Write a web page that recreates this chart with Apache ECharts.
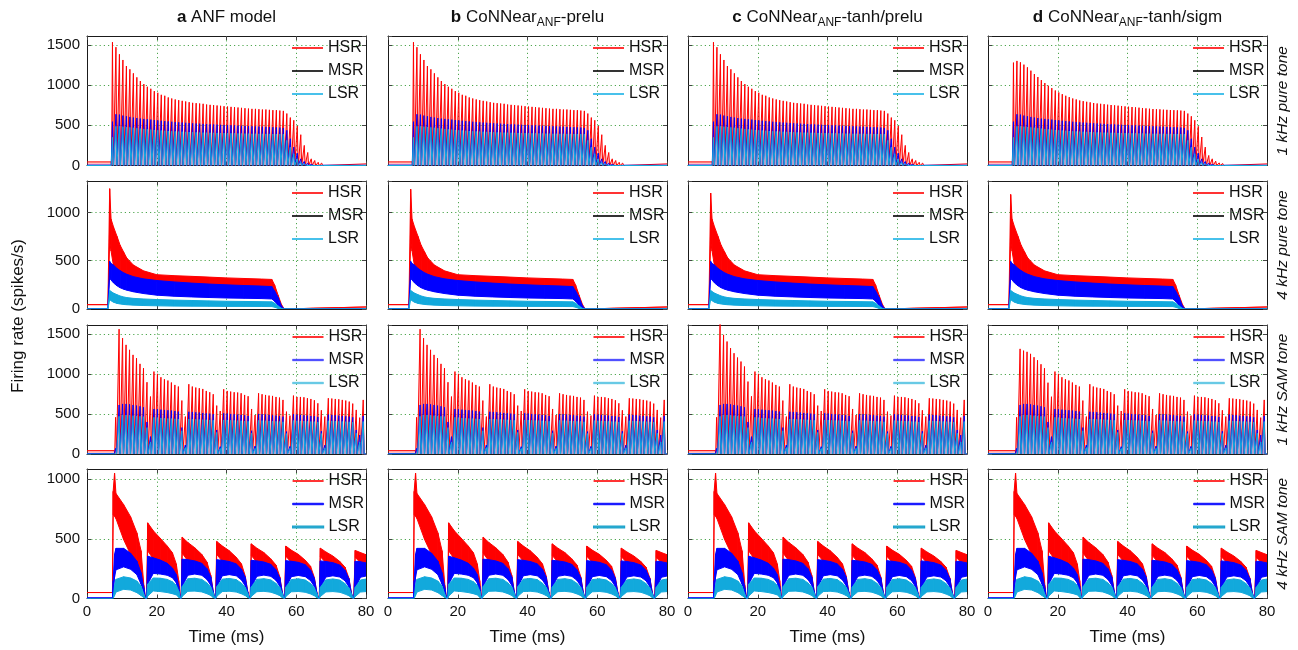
<!DOCTYPE html>
<html><head><meta charset="utf-8">
<script src="https://cdn.jsdelivr.net/npm/echarts@6.0.0/dist/echarts.min.js"></script>
<style>html,body{margin:0;padding:0;background:#fff}#c{width:1298px;height:650px}</style>
</head><body><div id="c"></div><script>
// ---------------- categories / labels ----------------
const panelTitles = ['{b|a} ANF model', '{b|b} CoNNear{s|ANF}-prelu', '{b|c} CoNNear{s|ANF}-tanh/prelu', '{b|d} CoNNear{s|ANF}-tanh/sigm'];
const rowLabels = ['1 kHz pure tone', '4 kHz pure tone', '1 kHz SAM tone', '4 kHz SAM tone'];
const seriesNames = ['HSR', 'MSR', 'LSR'];
const xName = 'Time (ms)';
const yName = 'Firing rate (spikes/s)';
const xTicks = [0, 20, 40, 60, 80];
const yTicks = [[0, 500, 1000, 1500], [0, 500, 1000], [0, 500, 1000, 1500], [0, 500, 1000]];
const yMax = [1610, 1325, 1610, 1085];

// ---------------- row 1: 1 kHz pure tone (peak per 1-ms cycle) ----------------
const onset1k = 7.3, cycle1k = 1.0;
const base1k = [45, 5, 0], post1k = [20, 3, 0];
const hsr1kA = [1533, 1471, 1383, 1312, 1237, 1196, 1146, 1096, 1050, 1012,
  979, 954, 925, 904, 879, 867, 846, 833, 821, 812,
  804, 796, 787, 779, 775, 771, 767, 758, 754, 750,
  746, 742, 737, 733, 729, 725, 721, 717, 712, 708,
  704, 704, 700, 696, 696, 692, 688, 688, 683, 679,
  646, 596, 562, 492, 383, 250, 162, 83, 62, 40, 30];
const hsr1kD = [1279, 1300, 1283, 1254, 1221, 1179, 1137, 1100, 1062, 1025,
  992, 962, 933, 908, 887, 867, 850, 833, 821, 808,
  800, 792, 785, 777, 771, 767, 762, 756, 752, 748,
  744, 740, 735, 731, 727, 723, 719, 715, 710, 706,
  702, 700, 698, 694, 692, 690, 688, 686, 683, 679,
  646, 612, 562, 487, 354, 229, 125, 83, 54, 33, 25];
const msr1k = [545, 637, 633, 621, 612, 604, 596, 590, 583, 579,
  575, 571, 565, 560, 556, 552, 548, 544, 540, 537,
  534, 531, 528, 525, 522, 520, 517, 515, 512, 510,
  508, 506, 504, 502, 500, 498, 496, 494, 492, 490,
  488, 486, 484, 482, 480, 478, 476, 474, 472, 467,
  437, 333, 229, 154, 83, 50, 29, 12, 8, 5, 4];
const lsr1k = [350, 487, 487, 483, 479, 474, 469, 464, 459, 454,
  450, 446, 442, 438, 435, 432, 429, 426, 424, 422,
  420, 418, 416, 414, 412, 410, 409, 408, 407, 406,
  405, 404, 403, 402, 401, 400, 399, 398, 397, 396,
  395, 395, 394, 394, 393, 393, 392, 392, 392, 390,
  312, 229, 146, 83, 42, 20, 8, 3, 0, 0, 0];

// ---------------- row 3: 1 kHz SAM tone (peak per 1-ms cycle) ----------------
const onsetSam1k = 8.2, cycleSam1k = 1.0;
const baseSam1k = [42, 5, 0], postSam1k = [0, 0, 0];
const hsrSam1k = [458,
  1558, 1446, 1362, 1300, 1237, 1196, 1125, 1071, 896, 717,
  1029, 1000, 958, 933, 917, 892, 862, 842, 667, 467,
  871, 842, 829, 821, 812, 787, 771, 746, 604, 537,
  808, 787, 779, 771, 767, 758, 737, 721, 562, 487,
  758, 746, 737, 729, 725, 712, 704, 675, 529, 479,
  729, 712, 712, 708, 696, 687, 671, 633, 546, 467,
  696, 692, 687, 683, 675, 667, 654, 629, 550, 454,
  675];
const hsrSam1kOnsetC = [1650, 1487, 1404, 1321, 1258, 1204, 1154, 1092, 904, 720];
const hsrSam1kOnsetD = [1312, 1290, 1275, 1250, 1208, 1170, 1120, 1070, 890, 715];
const msrSam1k = [70,
  612, 625, 625, 620, 612, 604, 596, 583, 400, 217,
  562, 558, 554, 550, 546, 542, 537, 529, 330, 112,
  527, 525, 521, 517, 512, 508, 504, 496, 300, 92,
  508, 504, 500, 496, 492, 488, 483, 475, 290, 100,
  500, 496, 492, 488, 483, 479, 475, 467, 280, 95,
  496, 492, 488, 483, 479, 475, 471, 463, 285, 110,
  492, 488, 483, 479, 475, 471, 467, 458, 300, 237,
  475];
const lsrSam1k = [20,
  470, 487, 487, 483, 479, 475, 471, 466, 330, 150,
  458, 454, 450, 446, 444, 442, 440, 437, 290, 80,
  437, 435, 433, 431, 429, 427, 425, 421, 270, 70,
  425, 423, 421, 419, 417, 415, 412, 408, 260, 70,
  419, 417, 415, 413, 411, 408, 406, 402, 255, 70,
  417, 415, 413, 411, 408, 406, 404, 400, 255, 75,
  415, 413, 411, 408, 406, 404, 402, 398, 260, 150,
  405];

// ---------------- row 2: 4 kHz pure tone (envelopes: top / bottom) ----------------
const times4k = [0, 6.0, 6.5, 6.9, 7.6, 8.6, 9.5, 10.5, 11.4, 13.3, 16.2, 20, 25, 30, 35, 40, 45, 50, 53, 53.8, 54.8, 55.7, 56.4, 57.1, 65, 72, 80];
const hsrTop4k = [45, 45, 1245, 930, 850, 752, 660, 590, 528, 455, 395, 355, 345, 338, 330, 322, 316, 310, 306, 248, 142, 52, 7, 0, 8, 14, 21];
const hsrBot4k = [45, 45, 700, 600, 445, 410, 387, 365, 350, 325, 302, 285, 270, 258, 248, 240, 233, 227, 222, 175, 110, 30, 5, 0, 8, 14, 21];
const msrTop4k = [5, 5, 493, 470, 455, 420, 397, 375, 360, 335, 312, 295, 280, 268, 258, 250, 243, 237, 232, 185, 120, 35, 5, 0, 0, 0, 0];
const msrBot4k = [5, 5, 330, 300, 270, 240, 220, 205, 195, 178, 160, 143, 132, 125, 119, 114, 111, 108, 104, 80, 40, 7, 0, 0, 0, 0, 0];
const lsrTop4k = [0, 0, 192, 180, 165, 148, 135, 125, 118, 110, 104, 98, 92, 88, 84, 80, 78, 76, 74, 60, 32, 8, 0, 0, 0, 0, 0];
const lsrBot4k = [0, 0, 100, 85, 70, 58, 52, 47, 44, 40, 36, 33, 30, 29, 28, 27, 27, 26, 25, 18, 6, 0, 0, 0, 0, 0, 0];
const hsr4kOnsetPeak = [1245, 1240, 1200, 1185];

// ---------------- row 4: 4 kHz SAM tone (envelopes: top / bottom) ----------------
const timesSam4k = [0, 7.3,
  7.5, 7.9, 8.3, 10.5, 12.5, 14.3, 15.5, 16.3, 16.8,
  17.1, 17.4, 19.0, 21.0, 23.0, 24.5, 25.6, 26.3, 26.8,
  27.0, 27.3, 28.9, 30.9, 32.9, 34.4, 35.5, 36.2, 36.7,
  36.9, 37.2, 38.8, 40.8, 42.8, 44.3, 45.4, 46.1, 46.6,
  46.8, 47.1, 48.7, 50.7, 52.7, 54.2, 55.3, 56.0, 56.5,
  56.7, 57.0, 58.6, 60.6, 62.6, 64.1, 65.2, 65.9, 66.4,
  66.6, 66.9, 68.5, 70.5, 72.5, 74.0, 75.1, 75.8, 76.3,
  76.5, 76.9, 78.4, 80];
const hsrTopSam4k = [50, 50,
  898, 1051, 880, 787, 685, 550, 400, 110, 0,
  0, 634, 568, 505, 440, 383, 290, 150, 0,
  0, 514, 470, 425, 370, 305, 194, 60, 0,
  0, 478, 440, 400, 345, 290, 185, 55, 0,
  0, 458, 422, 385, 332, 280, 180, 52, 0,
  0, 439, 405, 370, 320, 270, 175, 50, 0,
  0, 422, 390, 356, 310, 262, 170, 48, 0,
  0, 403, 385, 367];
const hsrBotSam4k = [50, 50,
  700, 690, 670, 494, 369, 230, 140, 60, 0,
  0, 400, 331, 312, 280, 230, 180, 80, 0,
  0, 380, 315, 305, 285, 235, 165, 40, 0,
  0, 370, 310, 300, 280, 230, 160, 38, 0,
  0, 360, 305, 296, 276, 226, 157, 36, 0,
  0, 355, 302, 293, 273, 223, 155, 35, 0,
  0, 350, 300, 290, 270, 220, 152, 34, 0,
  0, 345, 298, 288];
const msrTopSam4k = [5, 5,
  150, 370, 420, 420, 380, 313, 216, 90, 0,
  0, 355, 341, 322, 295, 255, 200, 104, 0,
  0, 330, 325, 315, 295, 250, 180, 60, 0,
  0, 325, 320, 310, 290, 245, 175, 55, 0,
  0, 320, 315, 306, 286, 240, 170, 52, 0,
  0, 317, 312, 303, 283, 238, 168, 50, 0,
  0, 315, 310, 300, 280, 235, 165, 48, 0,
  0, 312, 308, 298];
const msrBotSam4k = [5, 5,
  5, 180, 240, 265, 245, 200, 120, 50, 0,
  0, 120, 210, 205, 195, 174, 132, 50, 0,
  0, 100, 195, 205, 195, 160, 110, 35, 0,
  0, 95, 190, 200, 190, 155, 105, 33, 0,
  0, 90, 186, 196, 186, 152, 102, 32, 0,
  0, 88, 183, 193, 183, 150, 100, 31, 0,
  0, 85, 180, 190, 180, 148, 98, 30, 0,
  0, 83, 178, 188];
const lsrTopSam4k = [0, 0,
  0, 110, 160, 182, 172, 146, 104, 35, 0,
  0, 120, 172, 170, 160, 140, 110, 63, 0,
  0, 100, 165, 170, 160, 130, 95, 45, 0,
  0, 98, 162, 168, 158, 128, 93, 43, 0,
  0, 96, 160, 166, 156, 126, 92, 42, 0,
  0, 95, 158, 165, 155, 125, 90, 41, 0,
  0, 94, 156, 164, 154, 124, 89, 40, 0,
  0, 93, 155, 163];
const lsrBotSam4k = [0, 0,
  0, 25, 54, 77, 71, 49, 25, 8, 0,
  0, 20, 63, 58, 50, 40, 30, 10, 0,
  0, 18, 60, 62, 55, 40, 25, 8, 0,
  0, 18, 58, 61, 54, 39, 24, 8, 0,
  0, 17, 57, 60, 53, 38, 24, 7, 0,
  0, 17, 56, 59, 52, 38, 23, 7, 0,
  0, 16, 55, 58, 52, 37, 23, 7, 0,
  0, 16, 54, 58];

// ---------------- layout & style ----------------
const FONT = '"Liberation Sans", Arial, Helvetica, sans-serif';
const colLeft = [87, 388, 688, 988], colW = 279;
const rowTop = [36, 181, 325, 469], rowH = [129.5, 128, 129, 129.5];
const colors = ['#ff0000', '#0000ff', '#12a9dc'];
const areaColors = ['rgba(255,0,0,0.35)', 'rgba(0,0,255,0.25)', 'rgba(18,169,220,0.25)'];
const legendItems = [
  [{name:'HSR', itemStyle:{color:'#ff0000'}}, {name:'MSR', itemStyle:{color:'#000000'}}, {name:'LSR', itemStyle:{color:'#1ab2e6'}}],
  [{name:'HSR', itemStyle:{color:'#ff0000'}}, {name:'MSR', itemStyle:{color:'#000000'}}, {name:'LSR', itemStyle:{color:'#1ab2e6'}}],
  [{name:'HSR', itemStyle:{color:'#ff0000'}}, {name:'MSR', itemStyle:{color:'#2020ff', borderColor:'rgba(90,90,255,0.55)', borderWidth:1}}, {name:'LSR', itemStyle:{color:'#30b8dd', borderColor:'rgba(120,205,230,0.7)', borderWidth:1}}],
  [{name:'HSR', itemStyle:{color:'#ff0000'}}, {name:'MSR', itemStyle:{color:'#0000ff', borderColor:'#0000ff', borderWidth:0.7}}, {name:'LSR', itemStyle:{color:'#1aa3cb', borderColor:'#1aa3cb', borderWidth:1.2}}]
];

function withOnset(base, onset, from) {
  const a = base.slice();
  onset.forEach((v, i) => { a[from + i] = v; });
  return a;
}
function spikeLine(si, g, t0, period, baseline, peaks, post) {
  const hw = 0.26;
  const d = [[0, baseline], [t0 - hw - 0.1, baseline]];
  peaks.forEach((p, k) => { const t = t0 + k * period; d.push([t - hw, 0], [t, p], [t + hw, 0]); });
  const tEnd = t0 + (peaks.length - 0.5) * period;
  if (tEnd < 80) d.push([tEnd, post], [80, post]);
  return {type:'line', name: seriesNames[si], xAxisIndex: 2*g, yAxisIndex: 2*g, data: d,
    showSymbol:false, symbol:'none', clip:true, silent:true, animation:false,
    lineStyle:{color: colors[si], width:1}, itemStyle:{color: colors[si]},
    areaStyle:{color: areaColors[si]}};
}
function bandSeries(si, g, times, top, bot) {
  const data = [];
  for (let i = 0; i < times.length - 1; i++) data.push([times[i], top[i], bot[i], times[i+1], top[i+1], bot[i+1]]);
  const color = colors[si];
  return {type:'custom', name: seriesNames[si], xAxisIndex: 2*g, yAxisIndex: 2*g, data,
    encode:{x:[0,3], y:[1,2,4,5]}, itemStyle:{color}, clip:true, silent:true, animation:false,
    renderItem: (params, api) => {
      const pts = [api.coord([api.value(0), api.value(2)]), api.coord([api.value(0), api.value(1)]),
                   api.coord([api.value(3), api.value(4)]), api.coord([api.value(3), api.value(5)])];
      return {type:'polygon', shape:{points: pts}, style:{fill: color, stroke: color, lineWidth: 1}};
    }};
}

const grid = [], xAxis = [], yAxis = [], series = [], legend = [], graphic = [];
for (let r = 0; r < 4; r++) for (let c = 0; c < 4; c++) {
  const g = r * 4 + c;
  grid.push({left: colLeft[c], top: rowTop[r], width: colW, height: rowH[r]});
  const frame = {show:true, onZero:false, lineStyle:{color:'#1a1a1a', width:1}};
  const tick = {show:true, inside:true, length:4, lineStyle:{color:'#444', width:1}};
  const grd = {show:true, showMinLine:false, showMaxLine:false, lineStyle:{color:'#4ea64e', width:1, type:[1.2, 3]}};
  const xmin = xTicks[0], xmax = xTicks[xTicks.length-1], xint = xTicks[1] - xTicks[0];
  xAxis.push({gridIndex:g, type:'value', position:'bottom', min:xmin, max:xmax, interval:xint,
    axisLine:frame, axisTick:tick, splitLine:grd,
    axisLabel:{show: r === 3, margin:6, fontSize:15, fontFamily:FONT, color:'#111'},
    name: r === 3 ? xName : '', nameLocation:'middle', nameGap:30,
    nameTextStyle:{fontSize:17, fontFamily:FONT, color:'#111'}});
  xAxis.push({gridIndex:g, type:'value', position:'top', min:xmin, max:xmax, interval:xint,
    axisLine:frame, axisTick:tick, axisLabel:{show:false}, splitLine:{show:false}});
  const yt = yTicks[r];
  yAxis.push({gridIndex:g, type:'value', position:'left', min:yt[0], max:yMax[r], interval:yt[1]-yt[0],
    axisLine:frame, axisTick:tick, splitLine:grd,
    axisLabel:{show: c === 0, margin:7, fontSize:15, fontFamily:FONT, color:'#111', showMaxLabel:false,
      formatter: v => (yt.indexOf(v) >= 0 ? String(v) : '')}});
  yAxis.push({gridIndex:g, type:'value', position:'right', min:yt[0], max:yMax[r], interval:yt[1]-yt[0],
    axisLine:frame, axisTick:tick, axisLabel:{show:false}, splitLine:{show:false}});

  if (r === 0) {
    const h = c === 3 ? hsr1kD : hsr1kA;
    series.push(spikeLine(0, g, onset1k, cycle1k, base1k[0], h, post1k[0]));
    series.push(spikeLine(1, g, onset1k, cycle1k, base1k[1], msr1k, post1k[1]));
    series.push(spikeLine(2, g, onset1k, cycle1k, base1k[2], lsr1k, post1k[2]));
  } else if (r === 2) {
    let h = hsrSam1k;
    if (c === 2) h = withOnset(hsrSam1k, hsrSam1kOnsetC, 1);
    if (c === 3) h = withOnset(hsrSam1k, hsrSam1kOnsetD, 1);
    series.push(spikeLine(0, g, onsetSam1k, cycleSam1k, baseSam1k[0], h, postSam1k[0]));
    series.push(spikeLine(1, g, onsetSam1k, cycleSam1k, baseSam1k[1], msrSam1k, postSam1k[1]));
    series.push(spikeLine(2, g, onsetSam1k, cycleSam1k, baseSam1k[2], lsrSam1k, postSam1k[2]));
  } else if (r === 1) {
    series.push(bandSeries(0, g, times4k, withOnset(hsrTop4k, [hsr4kOnsetPeak[c]], 2), hsrBot4k));
    series.push(bandSeries(1, g, times4k, msrTop4k, msrBot4k));
    series.push(bandSeries(2, g, times4k, lsrTop4k, lsrBot4k));
  } else {
    series.push(bandSeries(0, g, timesSam4k, hsrTopSam4k, hsrBotSam4k));
    series.push(bandSeries(1, g, timesSam4k, msrTopSam4k, msrBotSam4k));
    series.push(bandSeries(2, g, timesSam4k, lsrTopSam4k, lsrBotSam4k));
  }

  legend.push({left: colLeft[c] + 205, top: rowTop[r] + 3, orient:'vertical', icon:'rect',
    itemWidth:31, itemHeight:1.6, itemGap:5, padding:0, selectedMode:false,
    itemStyle:{borderWidth:0},
    textStyle:{fontSize:16, fontFamily:FONT, color:'#111', lineHeight:18},
    data: JSON.parse(JSON.stringify(legendItems[r]))});
}

for (let c = 0; c < 4; c++) {
  graphic.push({type:'text', x: colLeft[c] + colW / 2, y: 17, silent:true, style:{
    text: panelTitles[c], fill:'#111', fontSize:17, fontFamily:FONT, lineHeight:24,
    align:'center', verticalAlign:'middle', textAlign:'center', textVerticalAlign:'middle',
    rich:{ b:{fontWeight:'bold', fontSize:17, fontFamily:FONT, lineHeight:24, fill:'#111'},
           s:{fontSize:12, fontFamily:FONT, verticalAlign:'bottom', lineHeight:14, fill:'#111'} }}});
}
for (let r = 0; r < 4; r++) {
  graphic.push({type:'text', x:1283, y: rowTop[r] + rowH[r] / 2, rotation: Math.PI / 2, silent:true, style:{
    text: rowLabels[r], fill:'#111', fontSize:15.5, fontStyle:'italic', fontFamily:FONT,
    align:'center', verticalAlign:'middle', textAlign:'center', textVerticalAlign:'middle'}});
}
graphic.push({type:'text', x:18, y:316, rotation: Math.PI / 2, silent:true, style:{
  text: yName, fill:'#111', fontSize:17, fontFamily:FONT,
  align:'center', verticalAlign:'middle', textAlign:'center', textVerticalAlign:'middle'}});

const chart = echarts.init(document.getElementById('c'));
chart.setOption({animation:false, backgroundColor:'#fff', grid, xAxis, yAxis, series, legend, graphic});
</script></body></html>
